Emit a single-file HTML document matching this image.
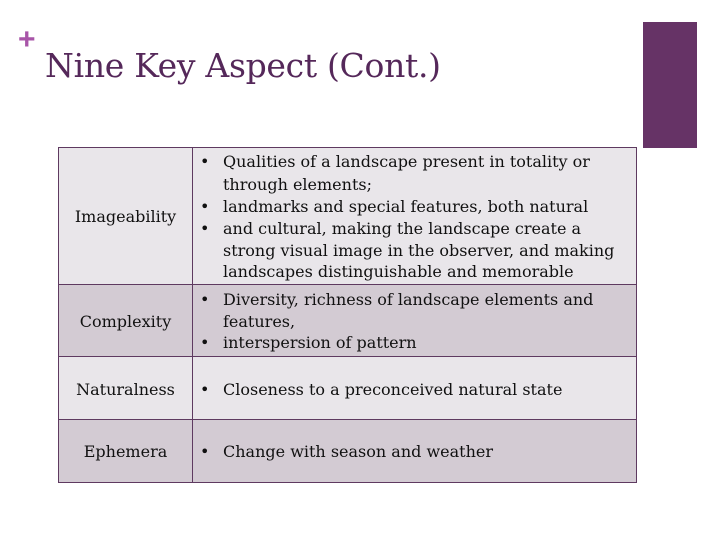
<!DOCTYPE html>
<html><head><style>
body{margin:0;width:720px;height:540px;background:#fff;position:relative;overflow:hidden;font-family:"DejaVu Serif","Liberation Serif",serif;}
.t{position:absolute;white-space:nowrap;color:#111;font-size:16px;}
.r{position:absolute;left:58px;width:579px;border:1px solid #5e3a60;box-sizing:border-box;}
</style></head><body>
<div style="position:absolute;left:643px;top:22px;width:54px;height:126px;background:#663366"></div>
<div style="position:absolute;left:18px;top:23px;font:bold 30px 'Liberation Sans',sans-serif;color:#a855a8">+</div>
<div style="position:absolute;left:45px;top:46px;font-size:33px;color:#55285a;white-space:nowrap;letter-spacing:-0.3px">Nine Key Aspect (Cont.)</div>

<div class="r" style="top:147px;height:138px;background:#e9e6ea"></div>
<div class="r" style="top:284px;height:73px;background:#d3cbd3"></div>
<div class="r" style="top:356px;height:64px;background:#e9e6ea"></div>
<div class="r" style="top:419px;height:64px;background:#d3cbd3"></div>
<div style="position:absolute;left:192px;top:147px;width:1px;height:336px;background:#5e3a60"></div>

<div class="t" style="left:58px;width:135px;text-align:center;top:207px">Imageability</div>
<div class="t" style="left:58px;width:135px;text-align:center;top:312px">Complexity</div>
<div class="t" style="left:58px;width:135px;text-align:center;top:380px">Naturalness</div>
<div class="t" style="left:58px;width:135px;text-align:center;top:442px">Ephemera</div>

<div class="t" style="left:200px;top:152px">•</div>
<div class="t" style="left:223px;top:152px">Qualities of a landscape present in totality or</div>
<div class="t" style="left:223px;top:175px">through elements;</div>
<div class="t" style="left:200px;top:197px">•</div>
<div class="t" style="left:223px;top:197px">landmarks and special features, both natural</div>
<div class="t" style="left:200px;top:219px">•</div>
<div class="t" style="left:223px;top:219px">and cultural, making the landscape create a</div>
<div class="t" style="left:223px;top:241px">strong visual image in the observer, and making</div>
<div class="t" style="left:223px;top:262px">landscapes distinguishable and memorable</div>

<div class="t" style="left:200px;top:290px">•</div>
<div class="t" style="left:223px;top:290px">Diversity, richness of landscape elements and</div>
<div class="t" style="left:223px;top:312px">features,</div>
<div class="t" style="left:200px;top:333px">•</div>
<div class="t" style="left:223px;top:333px">interspersion of pattern</div>

<div class="t" style="left:200px;top:380px">•</div>
<div class="t" style="left:223px;top:380px">Closeness to a preconceived natural state</div>
<div class="t" style="left:200px;top:442px">•</div>
<div class="t" style="left:223px;top:442px">Change with season and weather</div>
</body></html>
